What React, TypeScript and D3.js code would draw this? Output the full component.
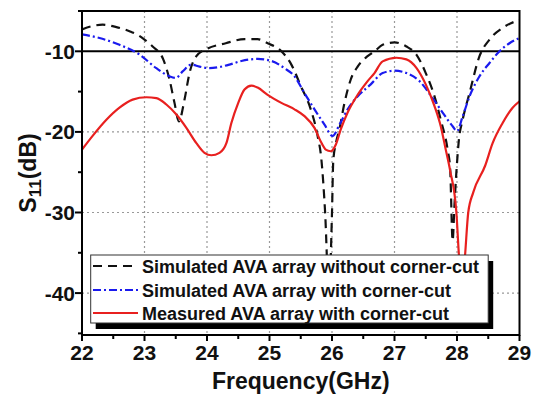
import React from "react";
import * as d3 from "d3";

const W = 541;
const H = 394;

const xTicks = [22, 23, 24, 25, 26, 27, 28, 29];
const yTicks = [-10, -20, -30, -40];
const xMinor = [22.5, 23.5, 24.5, 25.5, 26.5, 27.5, 28.5];
const yMinor = [-5, -15, -25, -35, -45];
const gridX = [23, 24, 25, 26, 27, 28];
const gridY = [-20, -30, -40];
const refLine = -10;

const legendLabels = [
  "Simulated AVA array without corner-cut",
  "Simulated AVA array with corner-cut",
  "Measured AVA array with corner-cut",
];

const simNoCutF = [22.0, 22.15, 22.33, 22.55, 22.76, 22.9, 23.0, 23.13, 23.3, 23.4, 23.48, 23.55, 23.64, 23.72, 23.83, 24.0, 24.3, 24.6, 24.81, 24.97, 25.19, 25.35, 25.5, 25.66, 25.77, 25.83, 25.89, 25.95, 26.0, 26.02, 26.06, 26.12, 26.2, 26.3, 26.41, 26.57, 26.68, 26.81, 27.0, 27.19, 27.35, 27.5, 27.64, 27.74, 27.85, 27.89, 27.93, 27.96, 27.99, 28.03, 28.09, 28.2, 28.36, 28.52, 28.73, 29.0];
const simNoCutS = [-7.3, -6.9, -6.7, -7.0, -7.5, -8.0, -8.55, -9.4, -11.0, -13.5, -16.4, -18.7, -16.0, -12.7, -10.6, -9.7, -9.0, -8.5, -8.5, -9.0, -10.0, -11.65, -14.3, -17.2, -20.5, -23.4, -30.0, -40.0, -30.0, -23.6, -21.5, -19.6, -16.4, -13.5, -11.9, -10.6, -10.0, -9.2, -8.9, -9.4, -10.4, -12.7, -15.6, -18.5, -22.2, -24.5, -33.5, -29.0, -25.0, -21.0, -18.5, -15.2, -10.6, -8.55, -7.1, -6.1];

const simCutF = [22.0, 22.28, 22.6, 22.92, 23.19, 23.4, 23.5, 23.61, 23.75, 23.88, 24.04, 24.2, 24.36, 24.55, 24.81, 25.03, 25.24, 25.4, 25.56, 25.72, 25.88, 26.01, 26.12, 26.25, 26.41, 26.62, 26.81, 27.0, 27.19, 27.4, 27.59, 27.77, 27.93, 28.0, 28.09, 28.2, 28.36, 28.52, 28.68, 28.84, 29.0];
const simCutS = [-7.9, -8.35, -9.2, -10.4, -12.1, -13.1, -13.3, -12.5, -11.65, -11.9, -12.1, -11.95, -11.65, -11.2, -10.95, -11.2, -12.1, -13.1, -15.2, -17.2, -19.1, -20.5, -19.1, -17.2, -15.6, -14.1, -12.7, -12.4, -12.7, -13.7, -15.6, -17.6, -19.3, -19.9, -18.1, -15.6, -13.1, -11.45, -10.0, -9.0, -8.35];

const measF = [22.0, 22.17, 22.39, 22.6, 22.81, 23.03, 23.19, 23.35, 23.51, 23.67, 23.83, 23.96, 24.07, 24.2, 24.31, 24.39, 24.5, 24.6, 24.71, 24.81, 24.97, 25.19, 25.4, 25.56, 25.72, 25.82, 25.9, 25.98, 26.06, 26.14, 26.25, 26.41, 26.57, 26.68, 26.81, 27.03, 27.19, 27.35, 27.5, 27.64, 27.74, 27.82, 27.89, 27.99, 28.03, 28.08, 28.13, 28.18, 28.26, 28.45, 28.57, 28.73, 28.89, 29.0];
const measS = [-22.2, -20.5, -18.5, -17.0, -16.0, -15.7, -15.8, -16.6, -17.85, -19.5, -21.4, -22.6, -22.9, -22.6, -21.4, -18.9, -16.4, -14.75, -14.25, -14.5, -15.4, -16.4, -17.2, -18.05, -19.5, -21.2, -22.2, -22.4, -21.6, -19.7, -17.6, -15.4, -13.7, -12.7, -11.25, -10.8, -11.0, -12.05, -14.1, -16.8, -19.3, -22.2, -24.8, -30.0, -35.2, -40.0, -35.2, -30.0, -27.5, -24.2, -21.4, -18.9, -17.0, -16.2];

const series = [
  { f: simNoCutF, s: simNoCutS, color: "#111111", dash: "9,6" },
  { f: simCutF, s: simCutS, color: "#1a1aee", dash: "8,3,2,3" },
  { f: measF, s: measS, color: "#e8201f", dash: "" },
];

const FONT = "'Liberation Sans', Arial, Helvetica, sans-serif";

export default function App() {
  const left = 82;
  const right = 519.5;
  const top = 11;
  const bottom = 335;
  const x = d3.scaleLinear().domain([22, 29]).range([left, right]);
  const y = d3.scaleLinear().domain([-45.2, -5]).range([bottom, top]);

  const line = d3
    .line<[number, number]>()
    .x((d) => x(d[0]))
    .y((d) => y(d[1]))
    .curve(d3.curveMonotoneX);

  const lgX = 90.7;
  const lgY = 255;
  const lgW = 397.5;
  const lgH = 68;
  const rowY = [266, 290, 313];

  return (
    <svg
      width={W}
      height={H}
      style={{ position: "absolute", left: 0, top: 0, background: "#fff" }}
      fontFamily={FONT}
    >
      <defs>
        <clipPath id="plotClip">
          <rect x={left} y={top} width={right - left} height={bottom - top} />
        </clipPath>
      </defs>
      <rect x={0} y={0} width={W} height={H} fill="#fff" />
      {/* grid */}
      {gridX.map((v) => (
        <line key={"gx" + v} x1={x(v)} x2={x(v)} y1={top} y2={bottom} stroke="#999" strokeWidth={1.2} strokeDasharray="2,3" />
      ))}
      {gridY.map((v) => (
        <line key={"gy" + v} x1={left} x2={right} y1={y(v)} y2={y(v)} stroke="#999" strokeWidth={1.2} strokeDasharray="2,3" />
      ))}
      {/* -10 dB reference */}
      <line x1={left} x2={right} y1={y(refLine)} y2={y(refLine)} stroke="#000" strokeWidth={2} />
      {/* curves */}
      <g clipPath="url(#plotClip)">
        {series.map((sr, i) => (
          <path
            key={i}
            d={line(sr.f.map((f, j) => [f, sr.s[j]] as [number, number])) || ""}
            fill="none"
            stroke={sr.color}
            strokeWidth={2.2}
            strokeDasharray={sr.dash || undefined}
            strokeLinejoin="round"
          />
        ))}
      </g>
      {/* frame */}
      <rect x={left} y={top} width={right - left} height={bottom - top} fill="none" stroke="#000" strokeWidth={2} />
      {/* x ticks */}
      {xTicks.map((v) => (
        <g key={"xt" + v}>
          <line x1={x(v)} x2={x(v)} y1={bottom} y2={bottom + 6} stroke="#000" strokeWidth={2} />
          <text x={x(v)} y={360} textAnchor="middle" fontSize={21} fontWeight="bold" fill="#111">
            {v}
          </text>
        </g>
      ))}
      {xMinor.map((v) => (
        <line key={"xm" + v} x1={x(v)} x2={x(v)} y1={bottom} y2={bottom + 4} stroke="#000" strokeWidth={2} />
      ))}
      {/* y ticks */}
      {yTicks.map((v) => (
        <g key={"yt" + v}>
          <line x1={left - 7} x2={left} y1={y(v)} y2={y(v)} stroke="#000" strokeWidth={2} />
          <text x={75} y={y(v) + 7.5} textAnchor="end" fontSize={21} fontWeight="bold" fill="#111">
            {v}
          </text>
        </g>
      ))}
      {yMinor.map((v) => (
        <line key={"ym" + v} x1={left - 4} x2={left} y1={y(v)} y2={y(v)} stroke="#000" strokeWidth={2} />
      ))}
      {/* axis titles */}
      <text x={(left + right) / 2} y={389} textAnchor="middle" fontSize={23} fontWeight="bold" fill="#111">
        Frequency(GHz)
      </text>
      <text
        transform={`translate(36,${(top + bottom) / 2}) rotate(-90)`}
        textAnchor="middle"
        fontSize={23}
        fontWeight="bold"
        fill="#111"
      >
        S<tspan fontSize={17} dy={5}>11</tspan>
        <tspan dy={-5}>(dB)</tspan>
      </text>
      {/* legend */}
      <rect x={lgX + 5} y={lgY + 6} width={lgW} height={lgH} fill="#000" />
      <rect x={lgX} y={lgY} width={lgW} height={lgH} fill="#fff" stroke="#333" strokeWidth={1} />
      {legendLabels.map((lab, i) => (
        <g key={"lg" + i}>
          <line
            x1={93}
            x2={138}
            y1={rowY[i]}
            y2={rowY[i]}
            stroke={series[i].color}
            strokeWidth={2.2}
            strokeDasharray={series[i].dash || undefined}
          />
          <text x={142} y={rowY[i] + 6.5} fontSize={18} fontWeight="bold" fill="#111">
            {lab}
          </text>
        </g>
      ))}
    </svg>
  );
}
